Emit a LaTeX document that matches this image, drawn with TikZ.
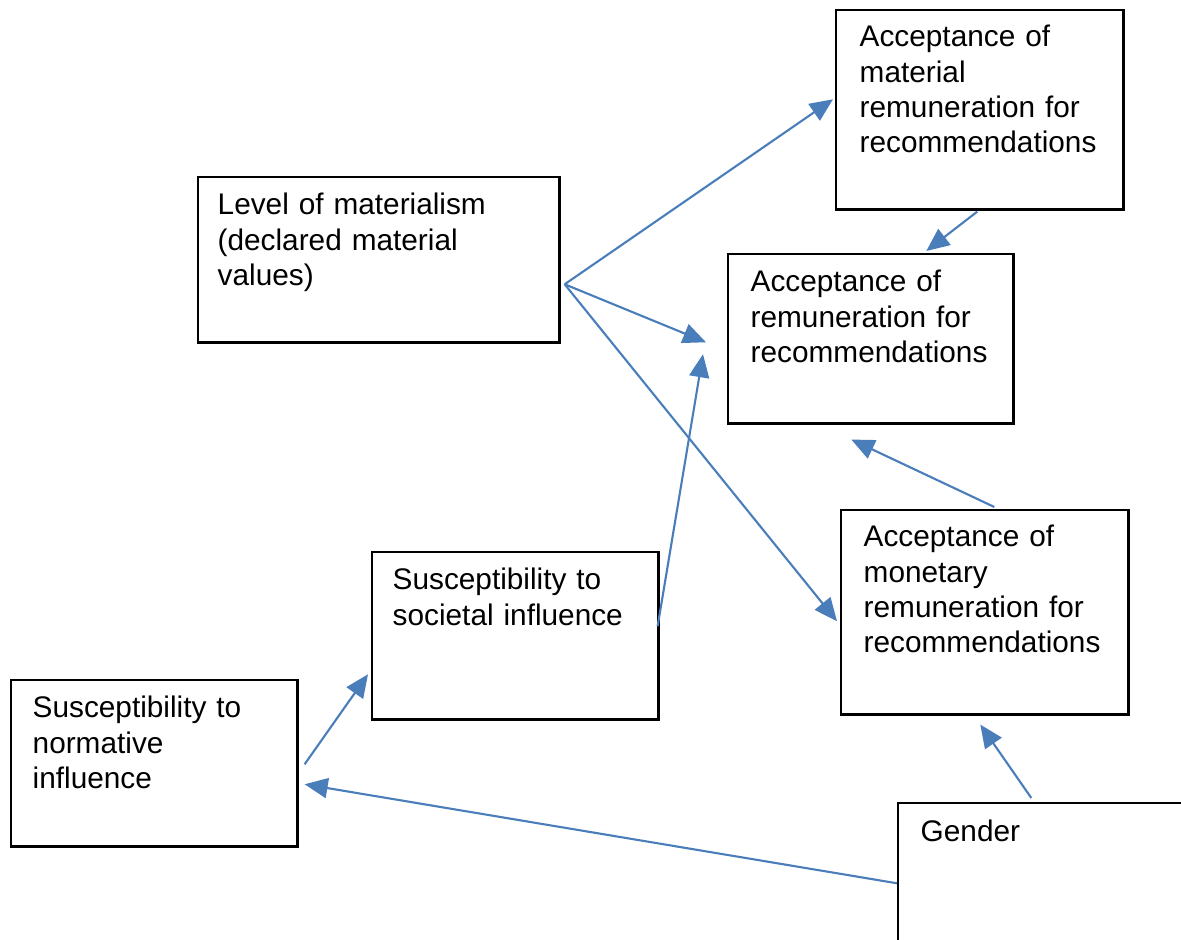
\documentclass[tikz,border=0pt]{standalone}
\usepackage{fontspec}
\setmainfont{Liberation Sans}
\usetikzlibrary{arrows.meta}
\definecolor{arrowblue}{RGB}{74,126,187}

\begin{document}
\begin{tikzpicture}[x=0.01cm, y=-0.01cm,
  font=\fontsize{8.47pt}{9.96pt}\selectfont,
  box/.style={draw, line width=0.7pt, anchor=north west, inner sep=0pt},
  lbl/.style={anchor=base west, inner sep=0pt, text width=3cm, align=left},
  arr/.style={draw=arrowblue, line width=0.6pt,
    -{Triangle[length=0.23cm, width=0.2cm]}}]
\useasboundingbox (0,0) rectangle (1181,940);

  % boxes
  \node[box, minimum width=2.87cm, minimum height=1.99cm] (mat) at (835,9) {}; % material remuneration
  \node[box, minimum width=3.61cm, minimum height=1.65cm] (lev) at (197,176) {}; % materialism
  \node[box, minimum width=2.85cm, minimum height=1.69cm] (acc) at (727,253) {}; % remuneration
  \node[box, minimum width=2.87cm, minimum height=2.04cm] (mon) at (840,509) {}; % monetary remuneration
  \node[box, minimum width=2.86cm, minimum height=1.67cm] (soc) at (371,551) {}; % societal
  \node[box, minimum width=2.86cm, minimum height=1.66cm] (nor) at (10,679) {}; % normative
  \node[box, minimum width=3.00cm, minimum height=2.00cm] (gen) at (897,802) {}; % gender

  % texts
  \node[lbl] (matt) at ([shift={(24,38)}]mat.north west)
    {Acceptance of\\ material\\ remuneration for\\ recommendations};
  \node[lbl] (levt) at ([shift={(20,39)}]lev.north west)
    {Level of materialism\\ (declared material\\ values)};
  \node[lbl] (acct) at ([shift={(23,39)}]acc.north west)
    {Acceptance of\\ remuneration for\\ recommendations};
  \node[lbl] (mont) at ([shift={(23,38)}]mon.north west)
    {Acceptance of\\ monetary\\ remuneration for\\ recommendations};
  \node[lbl] (soct) at ([shift={(21,39)}]soc.north west)
    {Susceptibility to\\ societal influence};
  \node[lbl] (nort) at ([shift={(22,39)}]nor.north west)
    {Susceptibility to\\ normative\\ influence};
  \node[lbl] (gent) at ([shift={(23,40)}]gen.north west) {Gender};

  % arrows
  \draw[arr] ([shift={(4,24.5)}]lev.east) -- ([shift={(-2,-10.5)}]mat.west); % lev -> mat
  \draw[arr] ([shift={(4,24.5)}]lev.east) -- ([shift={(-21,3.5)}]acc.west); % lev -> acc
  \draw[arr] ([shift={(4,24.5)}]lev.east) -- ([shift={(-3,9)}]mon.west); % lev -> mon
  \draw[arr] ([shift={(-2.5,1)}]mat.south) -- ([shift={(55.5,-2)}]acc.north); % mat -> acc
  \draw[arr] ([shift={(-2,-9.5)}]soc.east) -- ([shift={(-24,15.5)}]acc.west); % soc -> acc
  \draw[arr] ([shift={(9.5,-2)}]mon.north) -- ([shift={(-19.5,15)}]acc.south); % mon -> acc
  \draw[arr] ([shift={(6,1)}]nor.east) -- ([shift={(-3,38.5)}]soc.west); % nor -> soc
  \draw[arr] ([shift={(0,-20)}]gen.west) -- ([shift={(6,21)}]nor.east); % gen -> nor
  \draw[arr] ([shift={(-17,-4)}]gen.north) -- ([shift={(-4.5,9)}]mon.south); % gen -> mon
\end{tikzpicture}
\end{document}
